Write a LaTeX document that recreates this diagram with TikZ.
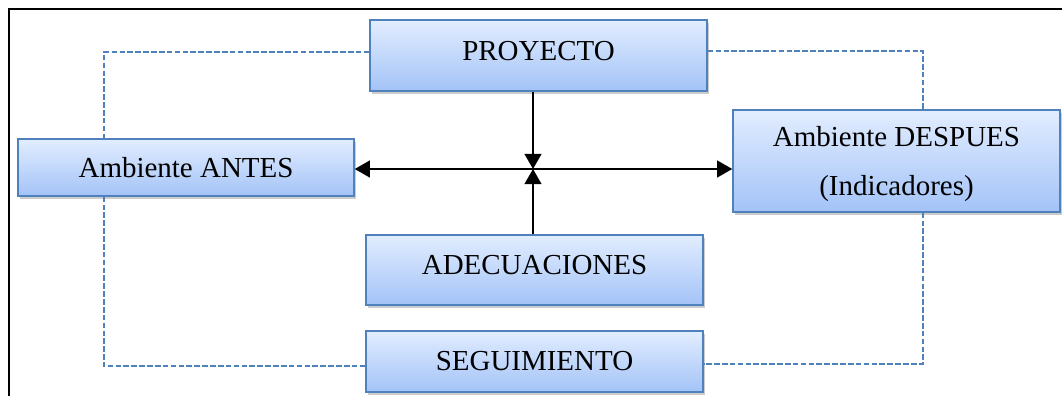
\documentclass[tikz,border=0pt]{standalone}
\usepackage{fontspec}
\setmainfont{Liberation Serif}
\usetikzlibrary{arrows.meta,shadows}
\definecolor{boxline}{RGB}{79,129,189}
\definecolor{boxtop}{RGB}{226,237,255}
\definecolor{boxbot}{RGB}{163,195,247}

\begin{document}
\begin{tikzpicture}[x=.025cm,y=-.025cm,
    caja/.style={draw=boxline,line width=1pt,top color=boxtop,bottom color=boxbot,
      drop shadow={shadow xshift=.06cm,shadow yshift=-.07cm,opacity=.4},
      font=\fontsize{20.6}{35}\selectfont,align=center,inner sep=0pt},
    guia/.style={draw=boxline,line width=1.3pt,dash pattern=on 4pt off 1.6pt},
    flecha/.style={line width=1.6pt,-{Triangle[length=.38cm,width=.42cm]}}]
    \useasboundingbox (0,0) rectangle (1062,396);
    \draw[line width=1.3pt] (9,396) -- (9,9) -- (1062,9);
    % cajas
    \node[caja,minimum width=8.425cm,minimum height=1.775cm,text depth=.25cm] (proy) at (538.5,55.5) {PROYECTO};
    \node[caja,minimum width=8.4cm,minimum height=1.425cm] (antes) at (186,167.5) {Ambiente ANTES};
    \node[caja,minimum width=8.175cm,minimum height=2.55cm] (despues) at (896.5,161) {\begin{tabular}{@{}c@{}}Ambiente DESPUES\\(Indicadores)\end{tabular}};
    \node[caja,minimum width=8.425cm,minimum height=1.75cm,text depth=.25cm] (adec) at (534.5,270) {ADECUACIONES};
    \node[caja,minimum width=8.425cm,minimum height=1.525cm] (seg) at (534.5,361.5) {SEGUIMIENTO};
    % lineas de guia
    \draw[guia] ([yshift=.08cm]proy.west) -| ([xshift=-2.05cm]antes.north);
    \draw[guia] ([xshift=-2.05cm]antes.south) |- ([yshift=-.12cm]seg.west);
    \draw[guia] ([yshift=.12cm]proy.east) -| ([xshift=.66cm]despues.north);
    \draw[guia] ([xshift=.66cm]despues.south) |- ([yshift=-.06cm]seg.east);
    % flechas
    \coordinate (cruce) at (533,169);
    \draw[flecha] (proy.south -| cruce) -- (cruce);
    \draw[flecha] (adec.north -| cruce) -- (cruce);
    \draw[flecha] (cruce) -- (antes.east |- cruce);
    \draw[flecha] (cruce) -- (despues.west |- cruce);
\end{tikzpicture}
\end{document}
